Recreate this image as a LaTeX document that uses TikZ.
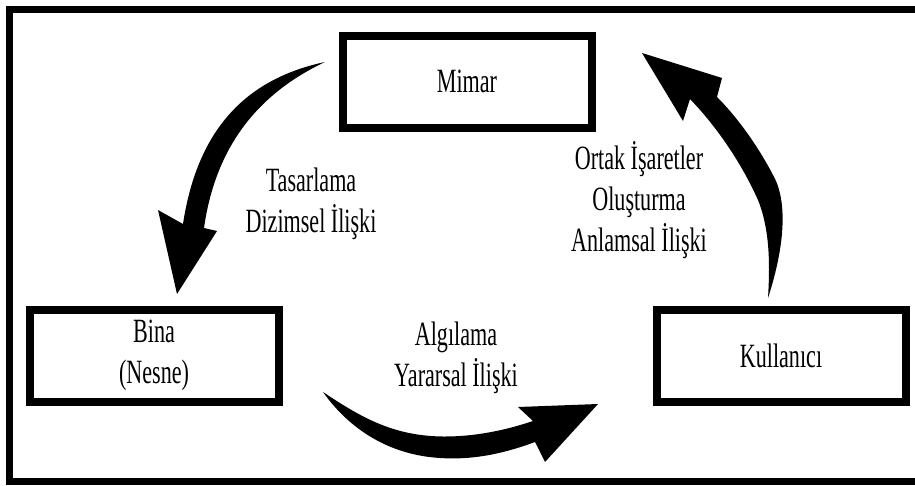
\documentclass[tikz,border=0pt]{standalone}
\usepackage{fontspec}
\setmainfont{Liberation Serif}[FakeStretch=0.65]
\usetikzlibrary{positioning}

\begin{document}
\begin{tikzpicture}[
  x=1pt, y=-1pt,
  box/.style={rectangle, draw=black, line width=8pt, minimum width=249pt,
              minimum height=92pt, align=center, inner sep=0pt,
              font=\fontsize{34}{41}\selectfont},
  lbl/.style={align=center, inner sep=0pt, font=\fontsize{34}{41}\selectfont},
  arr/.style={fill=black},
  frame/.style={line width=7pt}
]
\useasboundingbox (0,0) rectangle (915,485);
\draw[frame] (915,9.5) -| (9.5,481.5) -- (915,481.5);

\node[box] (mimar) at (467,81.5) {Mimar};
\node[box] (bina) at (154,355.5) {Bina\\(Nesne)};
\node[box, right=370pt of bina] (kullanici) {Kullanıcı};

\node[lbl] (tasarlama) at (311,204) {Tasarlama\\Dizimsel İlişki};
\node[lbl] (algilama) at (456,358) {Algılama\\Yararsal İlişki};
\node[lbl] (ortak) at (639,200) {Ortak İşaretler\\Oluşturma\\Anlamsal İlişki};

% mimar -> bina
\coordinate (t1) at (325,62);
\coordinate (p1) at (177,294);
\fill[arr] (t1) .. controls (250,78) and (198,125) .. (183,224)
  -- (158,210) -- (p1) -- (217,231) -- (204,228)
  .. controls (215,150) and (255,95) .. (t1);
% bina -> kullanici
\coordinate (t2) at (323,392);
\coordinate (p2) at (598,404);
\fill[arr] (t2) .. controls (365,420) and (400,440) .. (460,436)
  .. controls (490,434) and (515,427) .. (533,421)
  -- (518,407) -- (p2) -- (545,462) -- (535,442)
  .. controls (500,455) and (470,460) .. (440,458)
  .. controls (390,455) and (350,430) .. (t2);
% kullanici -> mimar
\coordinate (t3) at (768,298);
\coordinate (p3) at (642,53);
\fill[arr] (t3) .. controls (782,255) and (790,205) .. (773,175)
  .. controls (760,150) and (740,120) .. (717,97)
  -- (722,78) -- (p3) -- (683,121) -- (690,99)
  .. controls (715,125) and (740,160) .. (758,200)
  .. controls (770,230) and (770,265) .. (t3);
\end{tikzpicture}
\end{document}
